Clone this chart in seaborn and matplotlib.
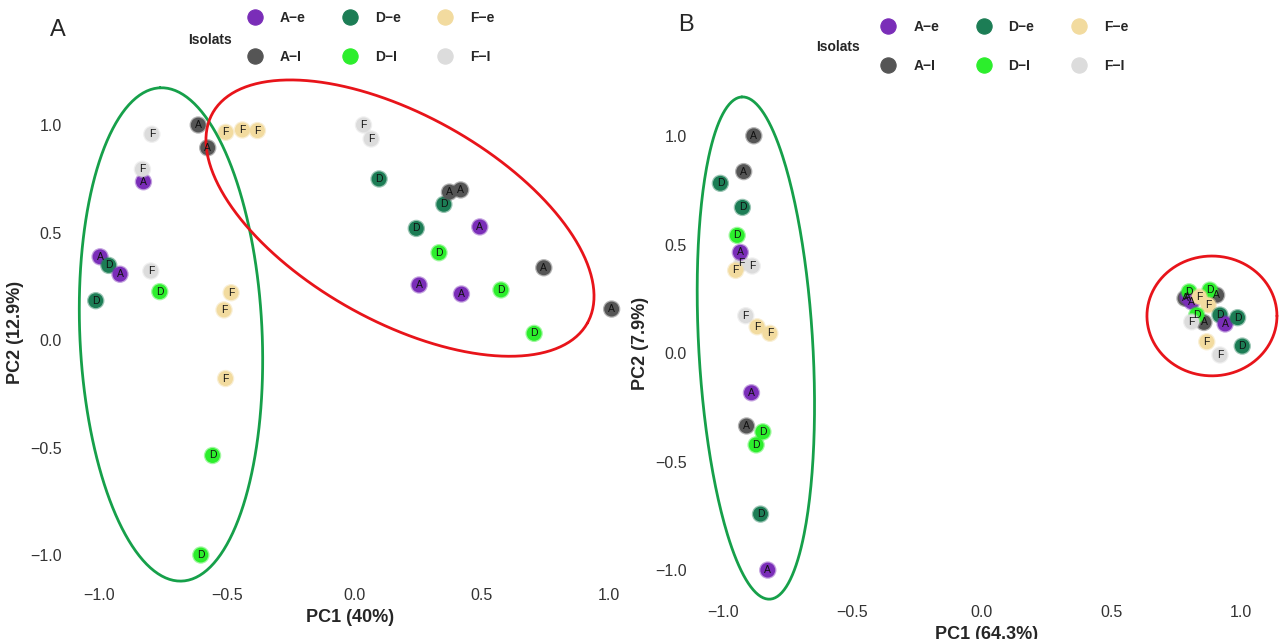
import numpy as np
import pandas as pd
import matplotlib
matplotlib.use('Agg')
import matplotlib.pyplot as plt
import seaborn as sns
from matplotlib.lines import Line2D

# group colours
groups = ['A-e', 'A-I', 'D-e', 'D-I', 'F-e', 'F-I']
colors = ['#7A2DB8', '#555555', '#1C7D55', '#2CEE2C', '#F2DB9F', '#DCDCDC']
palette = dict(zip(groups, colors))

# panel A scores (drawing order)
grp_a = ['A-e', 'D-e', 'A-e', 'D-e', 'A-e', 'F-I', 'F-I', 'F-I', 'D-I',
         'A-I', 'A-I', 'F-e', 'F-e', 'F-e', 'F-e', 'F-e', 'F-e', 'D-I', 'D-I',
         'F-I', 'F-I', 'D-e', 'D-e', 'A-I', 'A-I', 'D-e', 'A-e', 'D-I',
         'A-I', 'A-e', 'A-e', 'D-I', 'A-I', 'D-I']
pc1_a = [-0.996, -0.962, -0.918, -1.013, -0.826, -0.830, -0.793, -0.797, -0.762,
         -0.611, -0.574, -0.503, -0.438, -0.379, -0.482, -0.510, -0.504, -0.555, -0.601,
         0.037, 0.067, 0.098, 0.352, 0.418, 0.374, 0.244, 0.493, 0.333,
         0.744, 0.255, 0.421, 0.576, 1.010, 0.706]
pc2_a = [0.387, 0.347, 0.306, 0.183, 0.736, 0.794, 0.957, 0.321, 0.225,
         1.000, 0.894, 0.966, 0.977, 0.974, 0.220, 0.140, -0.179, -0.537, -1.000,
         1.000, 0.935, 0.749, 0.631, 0.698, 0.688, 0.519, 0.526, 0.406,
         0.336, 0.256, 0.214, 0.233, 0.144, 0.031]

# panel B scores (drawing order)
grp_b = ['A-I', 'A-I', 'D-e', 'D-e', 'F-I', 'D-I', 'A-e', 'F-I', 'F-e',
         'F-I', 'F-e', 'F-e', 'A-e', 'A-I', 'D-I', 'D-I', 'D-e', 'A-e',
         'A-I', 'A-I', 'A-e', 'D-I', 'D-I', 'A-e', 'F-e', 'F-e', 'A-I', 'D-I',
         'F-I', 'D-e', 'A-e', 'D-e', 'F-e', 'F-I', 'D-e']
pc1_b = [-0.881, -0.920, -1.010, -0.925, -0.928, -0.945, -0.933, -0.887, -0.951,
         -0.912, -0.868, -0.819, -0.890, -0.909, -0.846, -0.872, -0.855, -0.827,
         0.906, 0.784, 0.795, 0.800, 0.880, 0.810, 0.839, 0.874, 0.857, 0.829,
         0.810, 0.919, 0.939, 0.987, 0.868, 0.919, 1.005]
pc2_b = [1.001, 0.836, 0.782, 0.671, 0.413, 0.542, 0.464, 0.401, 0.381,
         0.172, 0.121, 0.091, -0.183, -0.336, -0.363, -0.423, -0.742, -1.000,
         0.267, 0.252, 0.258, 0.282, 0.290, 0.236, 0.259, 0.221, 0.141, 0.175,
         0.144, 0.175, 0.134, 0.163, 0.052, -0.009, 0.032]

df_a = pd.DataFrame({'pc1': pc1_a, 'pc2': pc2_a, 'group': grp_a})
df_b = pd.DataFrame({'pc1': pc1_b, 'pc2': pc2_b, 'group': grp_b})

sns.set_theme(style='white')
plt.rcParams['font.family'] = ['Liberation Sans', 'DejaVu Sans']

fig = plt.figure(figsize=(12.8, 6.39), dpi=100)
ax_a = fig.add_axes([70 / 1280, 1 - 580 / 639, 560 / 1280, 495 / 639])
ax_b = fig.add_axes([695 / 1280, 1 - 597 / 639, 583 / 1280, 507 / 639])


def draw_panel(ax, df, xlim, ylim, xlabel, ylabel):
    sns.scatterplot(data=df, x='pc1', y='pc2', hue='group', palette=palette,
                    s=115, linewidth=1.8, legend=False, ax=ax)
    coll = ax.collections[0]
    ec = coll.get_facecolors().copy()
    ec[:, 3] = 0.45
    coll.set_edgecolors(ec)
    for x, y, g in zip(df['pc1'], df['pc2'], df['group']):
        ax.text(x, y, g[0], ha='center', va='center', fontsize=7.5, color='#111111')
    ax.set_xlim(*xlim)
    ax.set_ylim(*ylim)
    ax.set_xticks([-1.0, -0.5, 0.0, 0.5, 1.0])
    ax.set_yticks([-1.0, -0.5, 0.0, 0.5, 1.0])
    ax.set_xticklabels(['\u22121.0', '\u22120.5', '0.0', '0.5', '1.0'])
    ax.set_yticklabels(['\u22121.0', '\u22120.5', '0.0', '0.5', '1.0'])
    ax.tick_params(length=0, labelsize=11.5, labelcolor='#333333', pad=6)
    ax.set_xlabel(xlabel, fontsize=13, fontweight='bold', labelpad=4)
    ax.set_ylabel(ylabel, fontsize=13, fontweight='bold', labelpad=4)
    for s in ax.spines.values():
        s.set_visible(False)
    ax.grid(False)


def draw_ellipse(ax, center, u, v, color):
    t = np.linspace(0, 2 * np.pi, 300)
    x = center[0] + u[0] * np.cos(t) + v[0] * np.sin(t)
    y = center[1] + u[1] * np.cos(t) + v[1] * np.sin(t)
    ax.plot(x, y, color=color, lw=2.0, clip_on=False)


draw_panel(ax_a, df_a, (-1.114, 1.082), (-1.116, 1.186), 'PC1 (40%)', 'PC2 (12.9%)')
draw_panel(ax_b, df_b, (-1.108, 1.143), (-1.124, 1.212), 'PC1 (64.3%)', 'PC2 (7.9%)')

draw_ellipse(ax_a, (-0.718, 0.026), (-0.043, 1.147), (0.357, 0.019), '#16A04A')
draw_ellipse(ax_a, (0.18, 0.567), (0.735, -0.488), (-0.197, -0.418), '#E8141A')
draw_ellipse(ax_b, (-0.873, 0.023), (-0.054, 1.157), (0.220, 0.014), '#16A04A')
draw_ellipse(ax_b, (0.888, 0.171), (0.251, 0.0), (0.0, 0.276), '#E8141A')

# legends
labels = [g.replace('-', '\u2212') for g in groups]
handles = [Line2D([], [], marker='o', linestyle='', markersize=11,
                  markerfacecolor=palette[g], markeredgecolor=palette[g],
                  markeredgewidth=0.8) for g in groups]
for cx, cy, tx, ty in [(0.29, 0.941, 210, 40), (0.785, 0.927, 838, 47)]:
    fig.legend(handles, labels, loc='center', bbox_to_anchor=(cx, cy), ncol=3,
               frameon=False, prop={'weight': 'bold', 'size': 10},
               handlelength=1.0, handletextpad=1.3, columnspacing=2.7,
               labelspacing=1.8)
    fig.text(tx / 1280, 1 - ty / 639, 'Isolats', ha='center', va='center',
             fontsize=10, fontweight='bold')

fig.text(58 / 1280, 1 - 30 / 639, 'A', fontsize=17, ha='center', va='center')
fig.text(686 / 1280, 1 - 25 / 639, 'B', fontsize=17, ha='center', va='center')

fig.savefig('out.png', dpi=100)
